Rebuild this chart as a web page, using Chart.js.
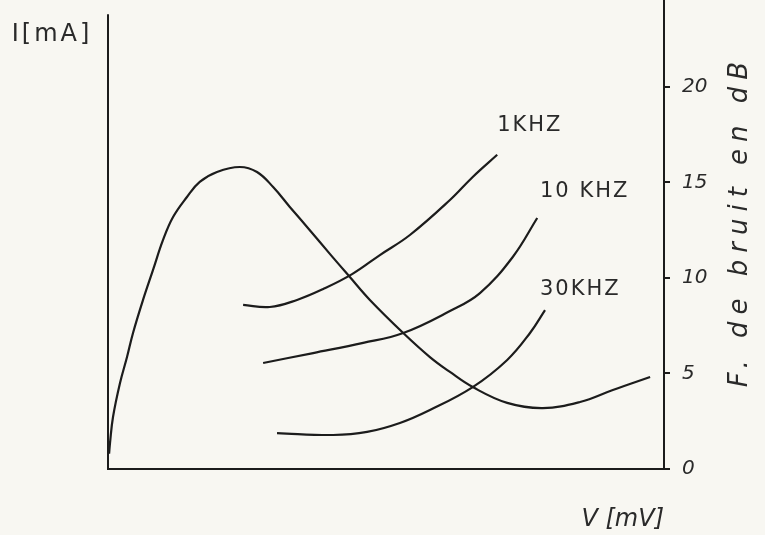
<!DOCTYPE html>
<html><head><meta charset="utf-8">
<script src="https://cdn.jsdelivr.net/npm/chart.js@4.4.1/dist/chart.umd.min.js"></script>
<style>html,body{margin:0;padding:0;background:#f8f7f2;}</style>
</head><body>
<canvas id="c" width="765" height="535"></canvas>
<script>
// I-V characteristic (arbitrary V units, I plotted on shared vertical scale)
const ivV = [0.2, 0.36, 0.9, 2.16, 3.42, 4.5, 6.3, 8.1, 9.9, 11.7, 14.2, 16.5, 19.6, 23.7, 26.8, 29.7, 32.7, 36.3, 39.9, 43.5, 47.1, 53.1, 57.9, 61.5, 65.6, 71.8, 78.2, 84.9, 90.8, 97.5];
const ivI = [0.8, 1.36, 2.72, 4.50, 5.86, 7.12, 8.85, 10.42, 11.99, 13.19, 14.24, 15.03, 15.55, 15.81, 15.55, 14.76, 13.72, 12.50, 11.26, 10.05, 8.85, 7.12, 5.86, 5.08, 4.29, 3.46, 3.19, 3.51, 4.14, 4.82];
// Noise figure curves (dB)
const nf1V = [24.3, 29.1, 34.0, 38.7, 43.9, 48.9, 54.3, 61.5, 65.6, 70.0];
const nf1dB = [8.59, 8.48, 8.85, 9.42, 10.2, 11.2, 12.25, 14.08, 15.29, 16.45];
const nf10V = [27.9, 36.9, 45.9, 53.1, 61.5, 66.9, 72.8, 77.2];
const nf10dB = [5.55, 6.07, 6.60, 7.12, 8.27, 9.21, 11.1, 13.14];
const nf30V = [30.4, 40.5, 46.6, 52.5, 57.9, 65.6, 71.8, 75.9, 78.6];
const nf30dB = [1.88, 1.78, 1.94, 2.41, 3.09, 4.29, 5.71, 7.12, 8.32];
const curveLabels = ['1KHZ', '10 KHZ', '30KHZ'];
const rightTicks = [0, 5, 10, 15, 20];

const ink = '#1c1c1c';
const pts = (xs, ys) => xs.map((x, i) => ({x: x, y: ys[i]}));
const lineDs = (label, data) => ({label, data, borderColor: ink, borderWidth: 2.2, pointRadius: 0, tension: 0.4, fill: false, yAxisID: 'y'});

// label anchors (data units: left edge, vertical centre)
const labelAnchors = [[70.0, 17.96], [77.7, 14.5], [77.7, 9.42]];
const leftAxisTop = 23.8; // left axis line stops a little below the top

const paper = {
  id: 'paper',
  beforeDraw(chart) {
    const ctx = chart.ctx;
    ctx.save(); ctx.fillStyle = '#f8f7f2'; ctx.fillRect(0, 0, chart.width, chart.height); ctx.restore();
  },
  afterDraw(chart) {
    const ctx = chart.ctx, a = chart.chartArea, xs = chart.scales.x, ys = chart.scales.y;
    ctx.save();
    // left axis line
    ctx.strokeStyle = ink; ctx.lineWidth = 2;
    ctx.beginPath();
    ctx.moveTo(a.left, ys.getPixelForValue(leftAxisTop));
    ctx.lineTo(a.left, a.bottom + 1);
    ctx.stroke();
    ctx.fillStyle = '#2a2a2a';
    ctx.font = '21px "DejaVu Sans"';
    ctx.letterSpacing = '2px';
    ctx.textBaseline = 'middle';
    ctx.textAlign = 'left';
    curveLabels.forEach((t, i) => {
      ctx.fillText(t, xs.getPixelForValue(labelAnchors[i][0]), ys.getPixelForValue(labelAnchors[i][1]));
    });
    // left axis title
    ctx.font = '24px "DejaVu Sans"';
    ctx.textAlign = 'center';
    ctx.letterSpacing = '3px';
    ctx.fillText('I[mA]', a.left - 56, a.top + 34);
    // right axis title, reading upward
    ctx.translate(a.right + 76, (a.top + a.bottom) / 2 - 14);
    ctx.rotate(-Math.PI / 2);
    ctx.font = 'italic 26px "DejaVu Sans"';
    ctx.letterSpacing = '7px';
    ctx.fillText('F. de bruit en dB', 0, 0);
    ctx.restore();
  }
};

new Chart(document.getElementById('c'), {
  type: 'line',
  data: {
    datasets: [
      lineDs('I(V)', pts(ivV, ivI)),
      lineDs('1 KHZ', pts(nf1V, nf1dB)),
      lineDs('10 KHZ', pts(nf10V, nf10dB)),
      lineDs('30 KHZ', pts(nf30V, nf30dB))
    ]
  },
  options: {
    responsive: false,
    animation: false,
    layout: {padding: {top: 1, left: 0, right: 0, bottom: 0}},
    plugins: {legend: {display: false}, tooltip: {enabled: false}},
    scales: {
      x: {
        type: 'linear', min: 0, max: 100,
        grid: {display: false},
        border: {display: true, color: ink, width: 2},
        ticks: {display: false},
        title: {display: true, text: 'V [mV]', align: 'end', color: '#2a2a2a', font: {family: 'DejaVu Sans', size: 24, style: 'italic'}, padding: {top: 0, bottom: 1}},
        afterFit(s) { s.height = 66; s.paddingLeft = 0; s.paddingRight = 0; }
      },
      y: {
        type: 'linear', position: 'left', min: 0, max: 24.5,
        grid: {display: false},
        border: {display: false},
        ticks: {display: false},
        afterFit(s) { s.width = 108; s.paddingTop = 0; s.paddingBottom = 0; }
      },
      y2: {
        type: 'linear', position: 'right', min: 0, max: 24.5,
        afterBuildTicks(s) { s.ticks = rightTicks.map(v => ({value: v})); },
        grid: {display: true, drawOnChartArea: false, tickLength: 6, color: ink, lineWidth: 2},
        border: {display: true, color: ink, width: 2},
        ticks: {color: '#2a2a2a', padding: 12, font: {family: 'DejaVu Sans', size: 20, style: 'italic'}},
        afterFit(s) { s.width = 101; s.paddingTop = 0; s.paddingBottom = 0; }
      }
    }
  },
  plugins: [paper]
});
</script>
</body></html>
